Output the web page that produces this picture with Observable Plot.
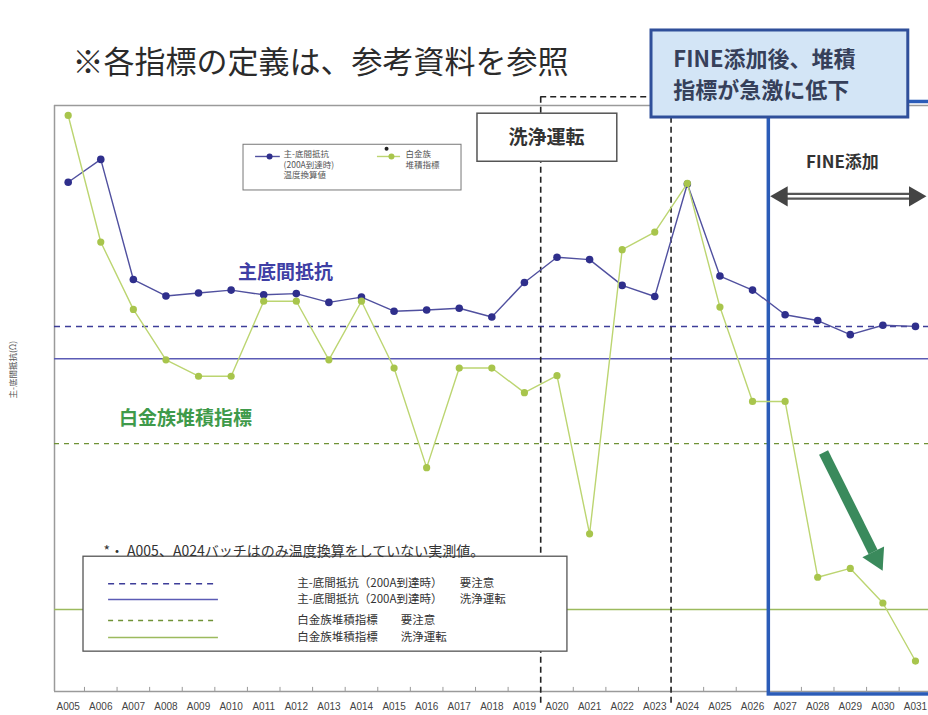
<!DOCTYPE html>
<html lang="ja">
<head>
<meta charset="utf-8">
<script src="https://cdn.jsdelivr.net/npm/d3@7"></script>
<script src="https://cdn.jsdelivr.net/npm/@observablehq/plot@0.6"></script>
<style>
  html, body { margin: 0; padding: 0; background: #fff; }
  #chart svg { display: block; }
</style>
</head>
<body>
<div id="chart"></div>
<script>
// バッチ番号
const batches = ["A005", "A006", "A007", "A008", "A009", "A010", "A011", "A012", "A013",
  "A014", "A015", "A016", "A017", "A018", "A019", "A020", "A021", "A022", "A023",
  "A024", "A025", "A026", "A027", "A028", "A029", "A030", "A031"];

// 主-底間抵抗（200A到達時）温度換算値（相対値）
const resistance = [86.9, 90.8, 70.3, 67.5, 68.0, 68.5, 67.7, 67.9, 66.4, 67.3,
  64.9, 65.1, 65.4, 63.9, 69.8, 74.1, 73.7, 69.3, 67.4, 86.6,
  70.9, 68.5, 64.3, 63.3, 60.9, 62.5, 62.3];

// 白金族堆積指標（相対値）
const deposition = [98.3, 76.7, 65.2, 56.6, 53.8, 53.8, 66.6, 66.6, 56.6, 66.6,
  55.2, 38.2, 55.2, 55.2, 51.0, 53.9, 26.9, 75.4, 78.4, 86.7,
  65.6, 49.5, 49.5, 19.5, 21.0, 15.1, 5.2];

// 判定基準
const thresholdLabels = [
  "主-底間抵抗（200A到達時）　　要注意",
  "主-底間抵抗（200A到達時）　　洗浄運転",
  "白金族堆積指標　　要注意",
  "白金族堆積指標　　洗浄運転"
];
const thresholdValues = [62.3, 56.8, 42.3, 14.0];

// 凡例・注記の文言
const seriesLegend = ["主-底間抵抗\n(200A到達時)\n温度換算値", "白金族\n堆積指標"];
const seriesTitles = ["主底間抵抗", "白金族堆積指標"];
const footnote = "*・ A005、A024バッチはのみ温度換算をしていない実測値。";
const pageTitle = "※各指標の定義は、参考資料を参照";
const calloutLines = ["FINE添加後、堆積", "指標が急激に低下"];
const washLabel = "洗浄運転";
const fineLabel = "FINE添加";

// 期間の境界（バッチの間）
const washFrom = batches.indexOf("A020") - 0.5;
const washTo = batches.indexOf("A024") - 0.5;
const fineFrom = batches.indexOf("A027") - 0.5;

const rows = batches.map((batch, i) => ({i, batch, resistance: resistance[i], deposition: deposition[i]}));

const JP = "'Noto Sans CJK JP', 'Noto Sans', sans-serif";
const XMIN = -0.42, XMAX = 26.4;

// 判定基準線の描き方
const thresholdStyles = [
  {stroke: "#3d3d99", strokeWidth: 1.5, strokeDasharray: "6,5"},
  {stroke: "#5b5bb5", strokeWidth: 1.5},
  {stroke: "#6f9236", strokeWidth: 1.3, strokeDasharray: "5,5"},
  {stroke: "#9cba5e", strokeWidth: 1.6}
];
const legendRowY = [18.4, 15.7, 12.1, 9.2];

const one = (o) => [o];

const chart = Plot.plot({
  width: 928,
  height: 715,
  marginTop: 105,
  marginBottom: 24,
  marginLeft: 54,
  marginRight: 0,
  x: {domain: [XMIN, XMAX], axis: null},
  y: {domain: [0, 100], axis: null},
  style: {fontFamily: JP, background: "#fff", overflow: "hidden"},
  marks: [
    // 枠（左・上・下）
    Plot.ruleX([XMIN], {stroke: "#9a9a9a", strokeWidth: 1.5}),
    Plot.ruleY([0, 100], {stroke: "#9a9a9a", strokeWidth: 1.5}),
    // バッチ区切りの目盛
    Plot.ruleX(d3.range(0.5, batches.length - 1, 1), {y1: 0, y2: 0.7, stroke: "#999"}),

    // 判定基準線
    ...thresholdValues.map((v, k) => Plot.ruleY([v], thresholdStyles[k])),

    // 洗浄運転期間（破線）
    Plot.ruleX([washFrom, washTo], {y1: -2, y2: 101.5, stroke: "#222", strokeWidth: 1.6, strokeDasharray: "6,4"}),
    Plot.ruleY([101.5], {x1: washFrom, x2: washTo, stroke: "#222", strokeWidth: 1.6, strokeDasharray: "6,4"}),

    // FINE添加期間
    Plot.rect(one({x1: fineFrom, x2: XMAX + 1, y1: -0.5, y2: 100.6}), {
      x1: "x1", x2: "x2", y1: "y1", y2: "y2", fill: "none", stroke: "#2b5cb8", strokeWidth: 3.5
    }),

    // 系列
    Plot.line(rows, {x: "i", y: "resistance", stroke: "#50509f", strokeWidth: 1.4}),
    Plot.dot(rows, {x: "i", y: "resistance", r: 3.8, fill: "#2f2f8c"}),
    Plot.line(rows, {x: "i", y: "deposition", stroke: "#bcd571", strokeWidth: 1.4}),
    Plot.dot(rows, {x: "i", y: "deposition", r: 3.6, fill: "#a8c54c"}),

    // 系列名
    Plot.text(one({x: 6.67, y: 71.5, t: seriesTitles[0]}), {x: "x", y: "y", text: "t", fontSize: 19, fontWeight: "bold", fill: "#3f3fa5"}),
    Plot.text(one({x: 3.6, y: 46.6, t: seriesTitles[1]}), {x: "x", y: "y", text: "t", fontSize: 19, fontWeight: "bold", fill: "#3f9a4a"}),

    // 凡例（上）
    Plot.rect(one({x1: 5.38, x2: 12.07, y1: 85.5, y2: 93.3}), {x1: "x1", x2: "x2", y1: "y1", y2: "y2", fill: "#fff", stroke: "#777", strokeWidth: 1}),
    Plot.ruleY([91.3], {x1: 5.75, x2: 6.51, stroke: "#50509f", strokeWidth: 1.4}),
    Plot.dot([6.18], {x: d => d, y: 91.3, r: 3, fill: "#2f2f8c"}),
    Plot.text(one({x: 6.61, y: 92.4, t: seriesLegend[0]}), {x: "x", y: "y", text: "t", lineAnchor: "top", lineHeight: 1.22, textAnchor: "start", fontSize: 8.5, fill: "#555"}),
    Plot.dot([9.77], {x: d => d, y: 92.6, r: 2, fill: "#222"}),
    Plot.ruleY([91.3], {x1: 9.49, x2: 10.2, stroke: "#bcd571", strokeWidth: 1.4}),
    Plot.dot([9.92], {x: d => d, y: 91.3, r: 3, fill: "#a8c54c"}),
    Plot.text(one({x: 10.35, y: 92.4, t: seriesLegend[1]}), {x: "x", y: "y", text: "t", lineAnchor: "top", lineHeight: 1.22, textAnchor: "start", fontSize: 8.5, fill: "#555"}),

    // 洗浄運転ラベル
    Plot.rect(one({x1: 12.56, x2: 16.85, y1: 90.4, y2: 98.6}), {x1: "x1", x2: "x2", y1: "y1", y2: "y2", fill: "#fff", stroke: "#555", strokeWidth: 1.5}),
    Plot.text(one({x: 14.68, y: 94.4, t: washLabel}), {x: "x", y: "y", text: "t", fontSize: 19, fontWeight: "bold", fill: "#333"}),

    // FINE添加ラベルと両矢印
    Plot.text(one({x: 23.76, y: 90.3, t: fineLabel}), {x: "x", y: "y", text: "t", fontSize: 17, fontWeight: "bold", fill: "#333"}),
    Plot.ruleY([84.5], {x1: 21.9, x2: 25.98, stroke: "#555", strokeWidth: 7}),
    Plot.ruleY([84.5], {x1: 21.9, x2: 25.98, stroke: "#fff", strokeWidth: 2.5}),
    Plot.dot([21.9], {x: d => d, y: 84.5, symbol: "triangle", r: 7.5, rotate: -90, fill: "#444"}),
    Plot.dot([25.98], {x: d => d, y: 84.5, symbol: "triangle", r: 7.5, rotate: 90, fill: "#444"}),

    // 下降を示す矢印
    Plot.link(one({x1: 23.18, y1: 40.8, x2: 24.70, y2: 23.82}), {x1: "x1", y1: "y1", x2: "x2", y2: "y2", stroke: "#3a8a5c", strokeWidth: 10}),
    Plot.dot(one({x: 24.80, y: 22.76}), {x: "x", y: "y", symbol: "triangle", r: 9, rotate: 153.4, fill: "#3a8a5c"}),

    // 凡例（下）と注記
    Plot.rect(one({x1: 0.47, x2: 15.32, y1: 6.8, y2: 23.0}), {x1: "x1", x2: "x2", y1: "y1", y2: "y2", fill: "#fff", stroke: "#555", strokeWidth: 1.3}),
    Plot.text(one({x: 1.08, y: 23.9, t: footnote}), {x: "x", y: "y", text: "t", textAnchor: "start", fontSize: 14, fill: "#333"}),
    ...legendRowY.map((ly, k) => Plot.ruleY([ly], {...thresholdStyles[k], strokeWidth: 1.5, x1: 1.24, x2: 4.61})),
    Plot.text(thresholdLabels.map((t, k) => ({t, y: legendRowY[k]})), {x: 7.03, y: "y", text: "t", textAnchor: "start", fontSize: 11.5, fill: "#333"}),

    // 吹き出し
    Plot.rect(one({x1: 17.9, x2: 25.78, y1: 97.95, y2: 112.8}), {x1: "x1", x2: "x2", y1: "y1", y2: "y2", fill: "#d3e5f6", stroke: "#2f4f9a", strokeWidth: 3}),
    Plot.text(calloutLines.map((t, k) => ({t, y: [107.7, 102.4][k]})), {x: 18.57, y: "y", text: "t", textAnchor: "start", fontSize: 22, fontWeight: "bold", fill: "#36405a"}),

    // タイトル
    Plot.text(one({x: 0.13, y: 107.3, t: pageTitle}), {x: "x", y: "y", text: "t", textAnchor: "start", fontSize: 31, fill: "#2b2b2b"}),

    // 軸
    Plot.axisX(d3.range(batches.length), {tickFormat: (i) => batches[i], tickSize: 0, tickPadding: 11, fontSize: 10, fontFamily: "'Liberation Sans', Arial, sans-serif", fill: "#444", label: null}),
    Plot.text(["主-底間抵抗(Ω)"], {frameAnchor: "left", dx: -41, rotate: -90, fontSize: 8.5, fill: "#555"})
  ]
});

document.getElementById("chart").append(chart);
</script>
</body>
</html>
